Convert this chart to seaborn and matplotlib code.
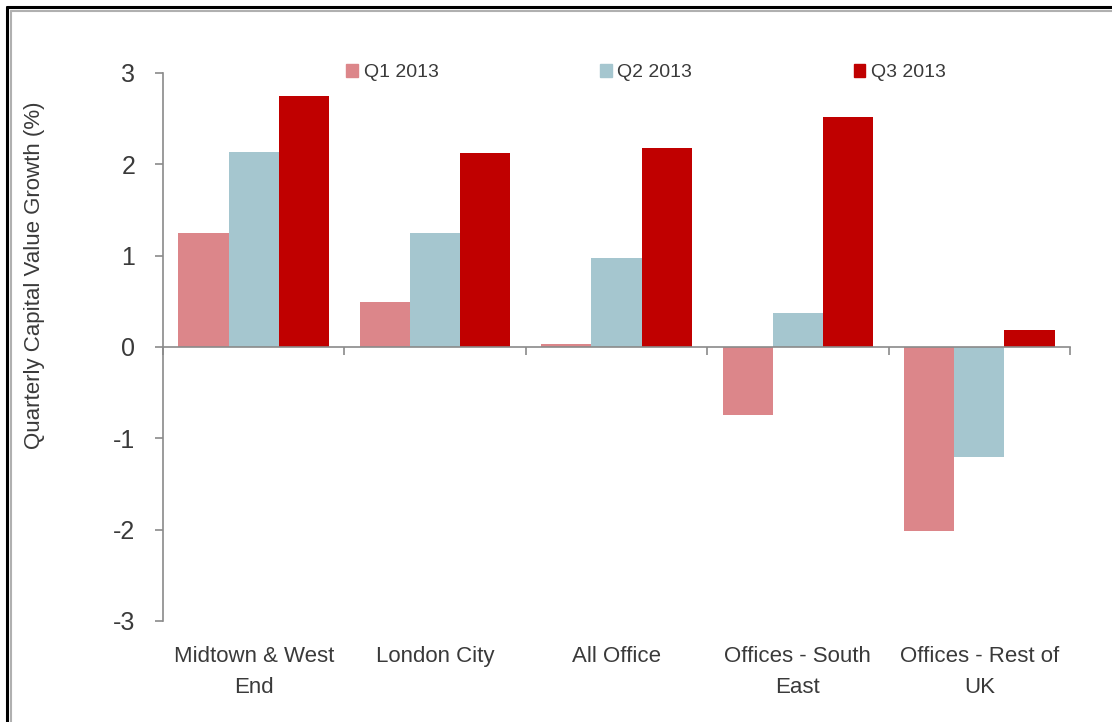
import pandas as pd
import matplotlib
matplotlib.use("Agg")
import matplotlib.pyplot as plt
import seaborn as sns
from matplotlib.lines import Line2D

# data
regions = ["Midtown & West\nEnd", "London City", "All Office",
           "Offices - South\nEast", "Offices - Rest of\nUK"]
quarters = ["Q1 2013", "Q2 2013", "Q3 2013"]
q1_2013 = [1.25, 0.49, 0.03, -0.75, -2.01]
q2_2013 = [2.14, 1.25, 0.97, 0.37, -1.20]
q3_2013 = [2.75, 2.12, 2.18, 2.52, 0.19]
y_ticks = [-3, -2, -1, 0, 1, 2, 3]

palette = ["#DC868A", "#A5C6CF", "#C00000"]
text_col = "#3a3a3a"
axis_col = "#8a8a8a"

df = pd.DataFrame({
    "region": regions * 3,
    "quarter": [q for q in quarters for _ in regions],
    "growth": q1_2013 + q2_2013 + q3_2013,
})

sns.set_style("white")
plt.rcParams["font.family"] = ["Liberation Sans", "DejaVu Sans"]

fig = plt.figure(figsize=(11.12, 7.22), dpi=100)
ax = fig.add_axes([0.1466, 0.1399, 0.8156, 0.759])

sns.barplot(data=df, x="region", y="growth", hue="quarter", order=regions,
            hue_order=quarters, palette=palette, width=0.83, saturation=1,
            linewidth=0, ax=ax)

ax.set_xlim(-0.5, len(regions) - 0.5)
ax.set_ylim(-3, 3)
ax.set_yticks(y_ticks)
ax.set_yticklabels([str(t) for t in y_ticks], fontsize=18, color=text_col)
ax.set_ylabel("Quarterly Capital Value Growth (%)", fontsize=16,
              color=text_col)
ax.yaxis.set_label_coords(-0.13, 0.631)
ax.set_xlabel("")

# zero line with boundary ticks
for side in ["top", "right"]:
    ax.spines[side].set_visible(False)
ax.spines["bottom"].set_position(("data", 0))
ax.spines["bottom"].set_color(axis_col)
ax.spines["left"].set_color(axis_col)
ax.spines["bottom"].set_linewidth(1.2)
ax.spines["left"].set_linewidth(1.2)
ax.set_xticks([i - 0.5 for i in range(len(regions) + 1)])
ax.set_xticklabels([])
ax.tick_params(axis="x", direction="out", length=6, width=1.2,
               color=axis_col, bottom=True)
ax.tick_params(axis="y", direction="out", length=6, width=1.2,
               color=axis_col, left=True, pad=14)

# category labels along the bottom
sec = ax.secondary_xaxis(0)
sec.set_xticks(range(len(regions)))
sec.set_xticklabels(regions, fontsize=16, color=text_col, linespacing=1.65)
sec.tick_params(length=0, pad=18)
sec.spines["bottom"].set_visible(False)

# legend across the top
handles = [plt.Rectangle((0, 0), 1, 1, color=c) for c in palette]
ax.get_legend().remove()
fig.legend(handles, quarters, loc="center", bbox_to_anchor=(0.581, 0.899),
           ncol=3, frameon=False, fontsize=14, handlelength=0.6,
           handleheight=0.6, handletextpad=0.3, columnspacing=8.3,
           labelcolor=text_col)

# frame lines (top and left edges)
fig.add_artist(Line2D([0.0065, 1], [0.9905, 0.9905], color="black", lw=2.2,
                      transform=fig.transFigure))
fig.add_artist(Line2D([0.0065, 0.0065], [0, 0.9905], color="black", lw=2.2,
                      transform=fig.transFigure))
fig.add_artist(Line2D([0.0095, 1], [0.985, 0.985], color="#b0b0b0", lw=1.5,
                      transform=fig.transFigure))
fig.add_artist(Line2D([0.0095, 0.0095], [0, 0.985], color="#b0b0b0", lw=1.5,
                      transform=fig.transFigure))

fig.savefig("out.png", dpi=100)
